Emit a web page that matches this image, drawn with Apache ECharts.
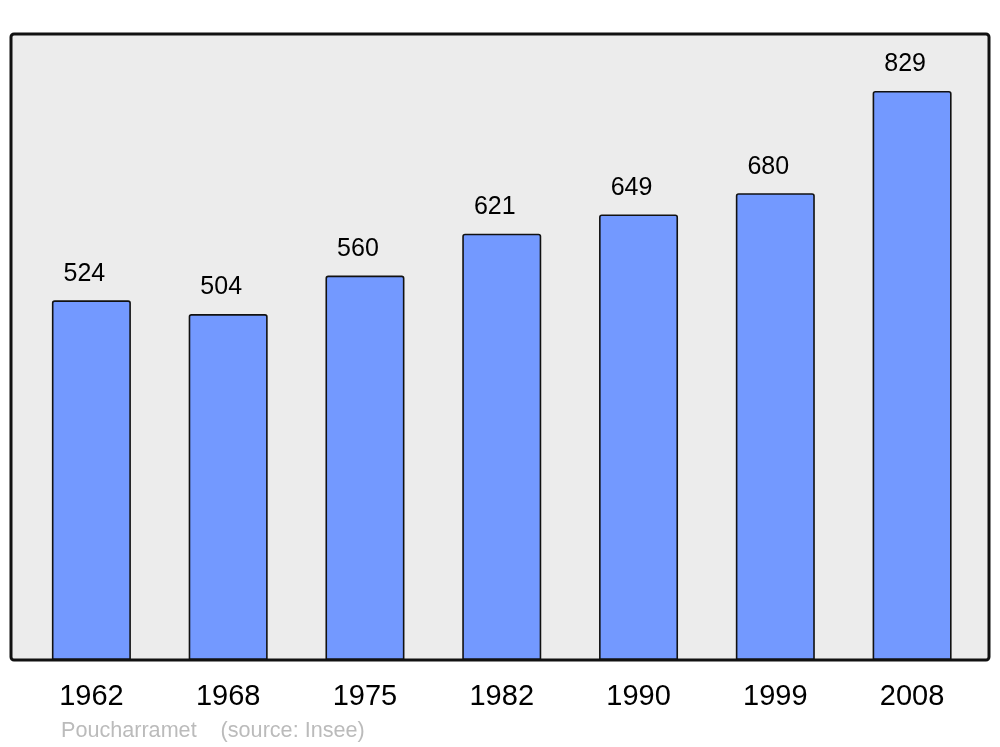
<!DOCTYPE html>
<html><head><meta charset="utf-8">
<script src="https://cdn.jsdelivr.net/npm/echarts@6/dist/echarts.min.js"></script>
<style>html,body{margin:0;padding:0;background:#fff}#c{width:1000px;height:747px}</style>
</head><body><div id="c"></div>
<script>
const years = ['1962','1968','1975','1982','1990','1999','2008'];
const population = [524, 504, 560, 621, 649, 680, 829];
const footerText = 'Poucharramet    (source: Insee)';

const chart = echarts.init(document.getElementById('c'));
chart.setOption({
  animation: false,
  backgroundColor: '#ffffff',
  textStyle: { fontFamily: 'Liberation Sans, Arial, sans-serif' },
  grid: { left: 23, right: 19.5, top: 34, bottom: 87 },
  xAxis: {
    type: 'category', data: years,
    axisLine: { show: false }, axisTick: { show: false },
    axisLabel: { color: '#000', fontSize: 29, margin: 22, fontFamily: 'Liberation Sans, Arial, sans-serif' }
  },
  yAxis: { type: 'value', min: 0, max: 912, show: false, splitLine: { show: false } },
  graphic: [
    { type: 'rect', z: -10, silent: true, shape: { x: 11, y: 34, width: 978, height: 626, r: 3 },
      style: { fill: '#ececec', stroke: null } },
    { type: 'rect', z: 100, silent: true, shape: { x: 11, y: 34, width: 978, height: 626, r: 3 },
      style: { fill: null, stroke: '#111', lineWidth: 3 } },
    { type: 'text', left: 61, top: 720, silent: true,
      style: { text: footerText, fill: '#bbbbbb', fontSize: 21.6, fontFamily: 'Liberation Sans, Arial, sans-serif' } }
  ],
  series: [{
    type: 'bar', data: population, barWidth: 79,
    itemStyle: { color: '#7399ff', borderColor: '#111', borderWidth: 1.6, borderRadius: [2, 2, 0, 0] },
    label: { show: true, position: 'top', distance: 14, offset: [-7, 0], color: '#000', fontSize: 25,
      fontFamily: 'Liberation Sans, Arial, sans-serif' }
  }]
});
</script></body></html>
